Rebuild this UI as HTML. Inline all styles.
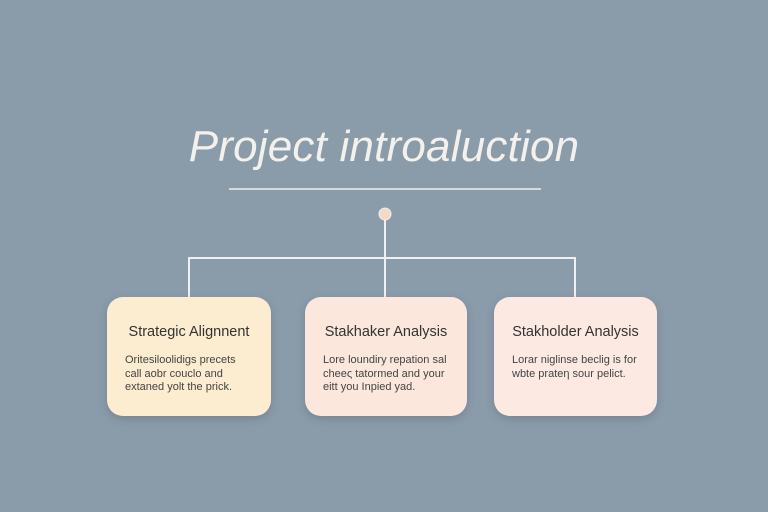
<!DOCTYPE html>
<html><head><style>
body{margin:0;width:768px;height:512px;background:#8a9baa;position:relative;overflow:hidden;font-family:"Liberation Sans","DejaVu Sans",sans-serif}
.t{position:absolute;left:0;width:768px;top:122px;text-align:center;color:#f4f1ec;font-size:44px;font-style:italic;font-weight:300;letter-spacing:0.2px}
.b{position:absolute;top:297px;height:119px;border-radius:16px;box-shadow:0 3px 8px rgba(60,70,80,.25);color:#333}
.b h{display:block;position:absolute;top:27px;left:0;width:100%;text-align:center;font-size:14.5px}
.b p{position:absolute;top:57px;left:18px;right:18px;margin:0;font-size:11px;line-height:13.5px;color:#444}
</style></head><body>
<div class="t">Project introaluction</div>
<svg width="768" height="512" style="position:absolute;left:0;top:0">
<line x1="229" y1="189" x2="541" y2="189" stroke="#eef0f2" stroke-width="1.5"/>
<g stroke="#eef0f2" stroke-width="2" fill="none">
<line x1="385" y1="218" x2="385" y2="258"/>
<polyline points="189,297 189,258 575,258 575,297"/>
<line x1="385" y1="258" x2="385" y2="297"/>
</g>
<circle cx="385" cy="214" r="6" fill="#f6d9c4" stroke="#eef0f2" stroke-width="1"/>
</svg>
<div class="b" style="left:107px;width:164px;background:#fcecd0"><h>Strategic Alignnent</h><p>Oritesiloolidigs precets call aobr couclo and extaned yolt the prick.</p></div>
<div class="b" style="left:305px;width:162px;background:#fbe7dc"><h>Stakhaker Analysis</h><p>Lore loundiry repation sal cheeς tatormed and your eitt you Inpied yad.</p></div>
<div class="b" style="left:494px;width:163px;background:#fce9e2"><h>Stakholder Analysis</h><p>Lorar niglinse beclig is for wbte prateη sour pelict.</p></div>
</body></html>
